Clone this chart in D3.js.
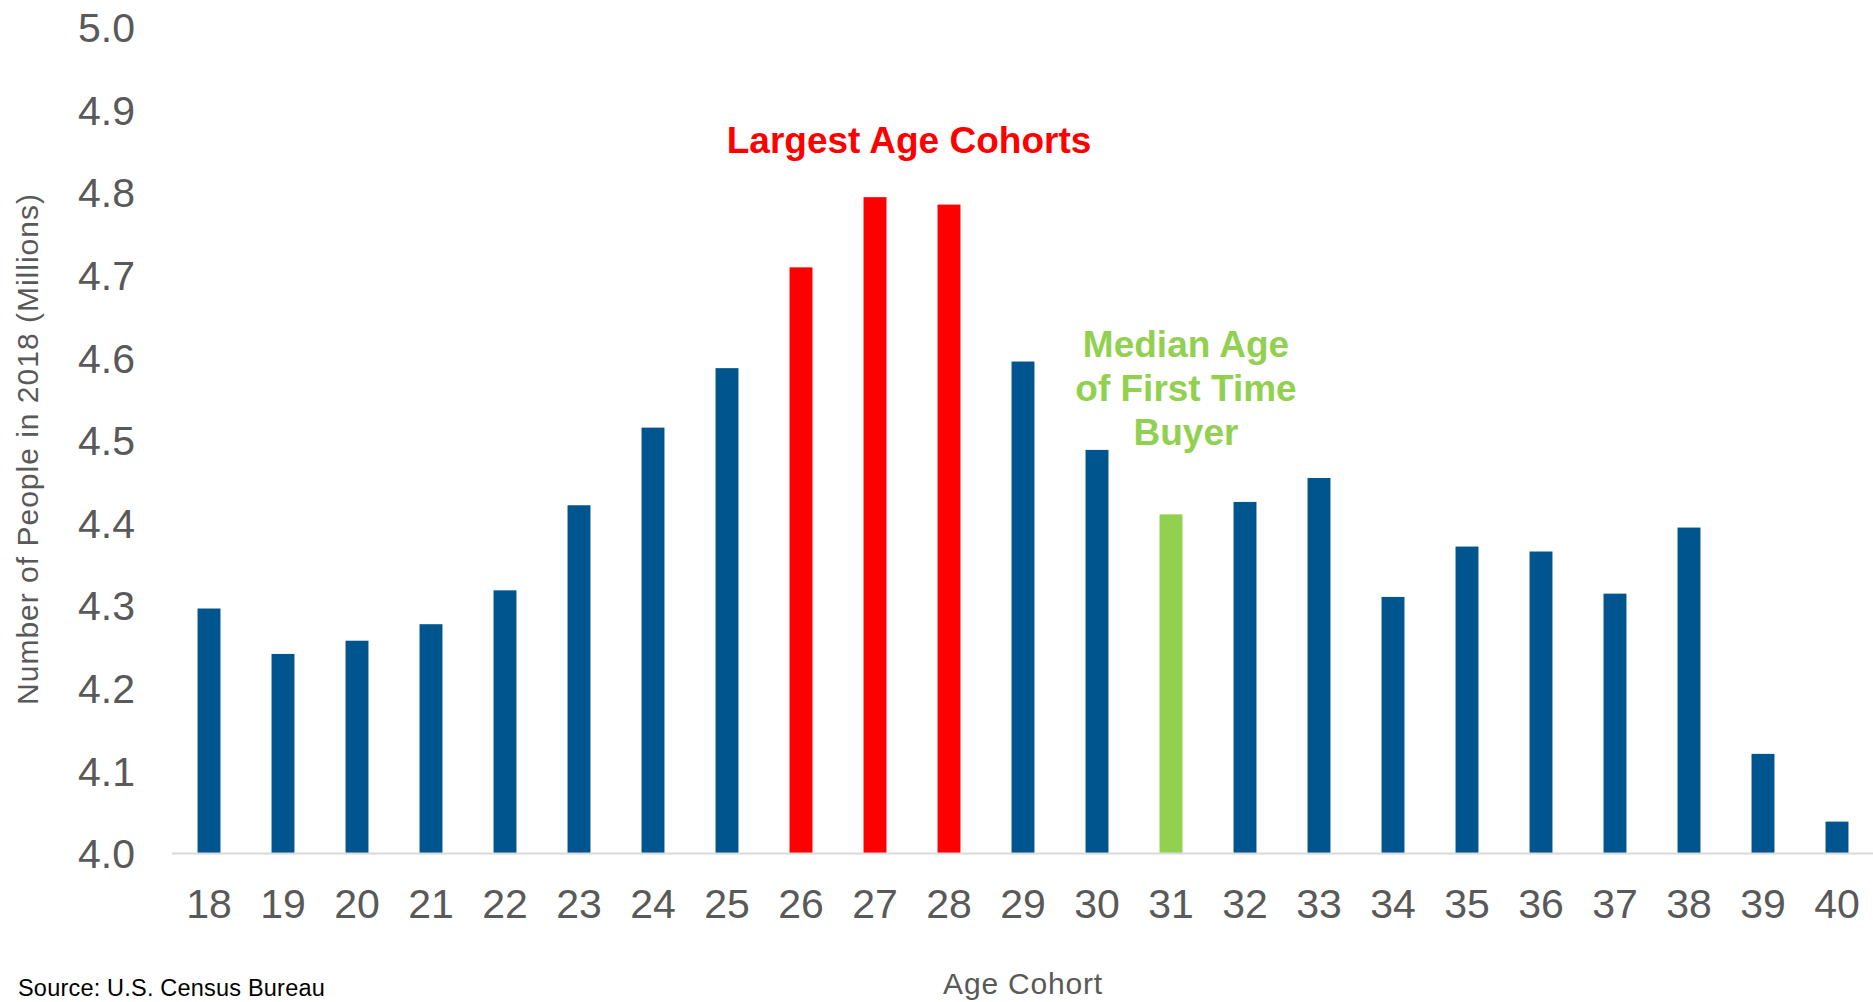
<!DOCTYPE html>
<html>
<head>
<meta charset="utf-8">
<script src="https://cdn.jsdelivr.net/npm/d3@7/dist/d3.min.js"></script>
<style>
  html, body { margin: 0; padding: 0; background: #ffffff; }
  svg { display: block; font-family: "Liberation Sans", Arial, sans-serif; }
</style>
</head>
<body>
<svg id="chart" width="1873" height="1002"></svg>
<script>
// ---- Data ----
const ages = ["18","19","20","21","22","23","24","25","26","27","28","29","30","31","32","33","34","35","36","37","38","39","40"];
const population = [4.296, 4.241, 4.257, 4.277, 4.318, 4.421, 4.515, 4.587, 4.709, 4.794, 4.785, 4.595, 4.488, 4.410, 4.425, 4.454, 4.310, 4.371, 4.365, 4.314, 4.394, 4.120, 4.038];
const largestCohorts = ["26","27","28"];
const medianFirstBuyer = ["31"];
const yTicks = [4.0, 4.1, 4.2, 4.3, 4.4, 4.5, 4.6, 4.7, 4.8, 4.9, 5.0];
const largestLabel = "Largest Age Cohorts";
const medianLabel = ["Median Age", "of First Time", "Buyer"];
const yTitle = "Number of People in 2018 (Millions)";
const xTitle = "Age Cohort";
const sourceText = "Source: U.S. Census Bureau";

// ---- Layout ----
const svg = d3.select("#chart");
const plotLeft = 172, plotRight = 1874, plotTop = 27, plotBottom = 853;

const x = d3.scaleBand().domain(ages).range([plotLeft, plotRight]).paddingInner(0.69).paddingOuter(0.345);
const y = d3.scaleLinear().domain([4.0, 5.0]).range([plotBottom, plotTop]);

const colorFor = a => largestCohorts.includes(a) ? "#FF0000" : (medianFirstBuyer.includes(a) ? "#92D050" : "#00558F");

// Bars
svg.append("g").selectAll("rect")
  .data(ages.map((a, i) => ({ a, v: population[i] })))
  .join("rect")
  .attr("x", d => x(d.a))
  .attr("width", x.bandwidth())
  .attr("y", d => y(d.v))
  .attr("height", d => y(4.0) - y(d.v))
  .attr("fill", d => colorFor(d.a));

// X axis line
svg.append("line")
  .attr("x1", plotLeft).attr("x2", 1873)
  .attr("y1", plotBottom + 0.5).attr("y2", plotBottom + 0.5)
  .attr("stroke", "#D9D9D9").attr("stroke-width", 2);

// X tick labels
const xAxis = d3.axisBottom(x).tickSize(0).tickPadding(0);
const gx = svg.append("g").attr("transform", `translate(0,${plotBottom})`).call(xAxis);
gx.select(".domain").remove();
gx.selectAll("text")
  .attr("y", 65).attr("dy", null)
  .attr("font-size", 41).attr("fill", "#595959")
  .attr("font-family", "Liberation Sans, Arial, sans-serif");

// Y tick labels
const yAxis = d3.axisLeft(y).tickValues(yTicks).tickFormat(d3.format(".1f")).tickSize(0).tickPadding(0);
const gy = svg.append("g").attr("transform", `translate(135,0)`).call(yAxis);
gy.select(".domain").remove();
gy.selectAll("text")
  .attr("x", 0).attr("dy", "0.36em")
  .attr("font-size", 41).attr("fill", "#595959")
  .attr("font-family", "Liberation Sans, Arial, sans-serif");

// Y axis title
svg.append("text")
  .attr("transform", "translate(38,449) rotate(-90)")
  .attr("text-anchor", "middle")
  .attr("font-size", 30).attr("letter-spacing", 1).attr("fill", "#595959")
  .text(yTitle);

// X axis title
svg.append("text")
  .attr("x", 1023).attr("y", 994)
  .attr("text-anchor", "middle")
  .attr("font-size", 30).attr("letter-spacing", 0.8).attr("fill", "#595959")
  .text(xTitle);

// Source
svg.append("text")
  .attr("x", 18).attr("y", 996)
  .attr("font-size", 23.5).attr("letter-spacing", 0.2).attr("fill", "#000000")
  .text(sourceText);

// Annotations
svg.append("text")
  .attr("x", 909).attr("y", 152.5)
  .attr("text-anchor", "middle")
  .attr("font-size", 37).attr("font-weight", "bold").attr("fill", "#FF0000")
  .text(largestLabel);

svg.append("g").selectAll("text")
  .data(medianLabel)
  .join("text")
  .attr("x", 1186)
  .attr("y", (d, i) => 356.5 + i * 44.2)
  .attr("text-anchor", "middle")
  .attr("font-size", 37).attr("font-weight", "bold").attr("fill", "#92D050")
  .text(d => d);
</script>
</body>
</html>
